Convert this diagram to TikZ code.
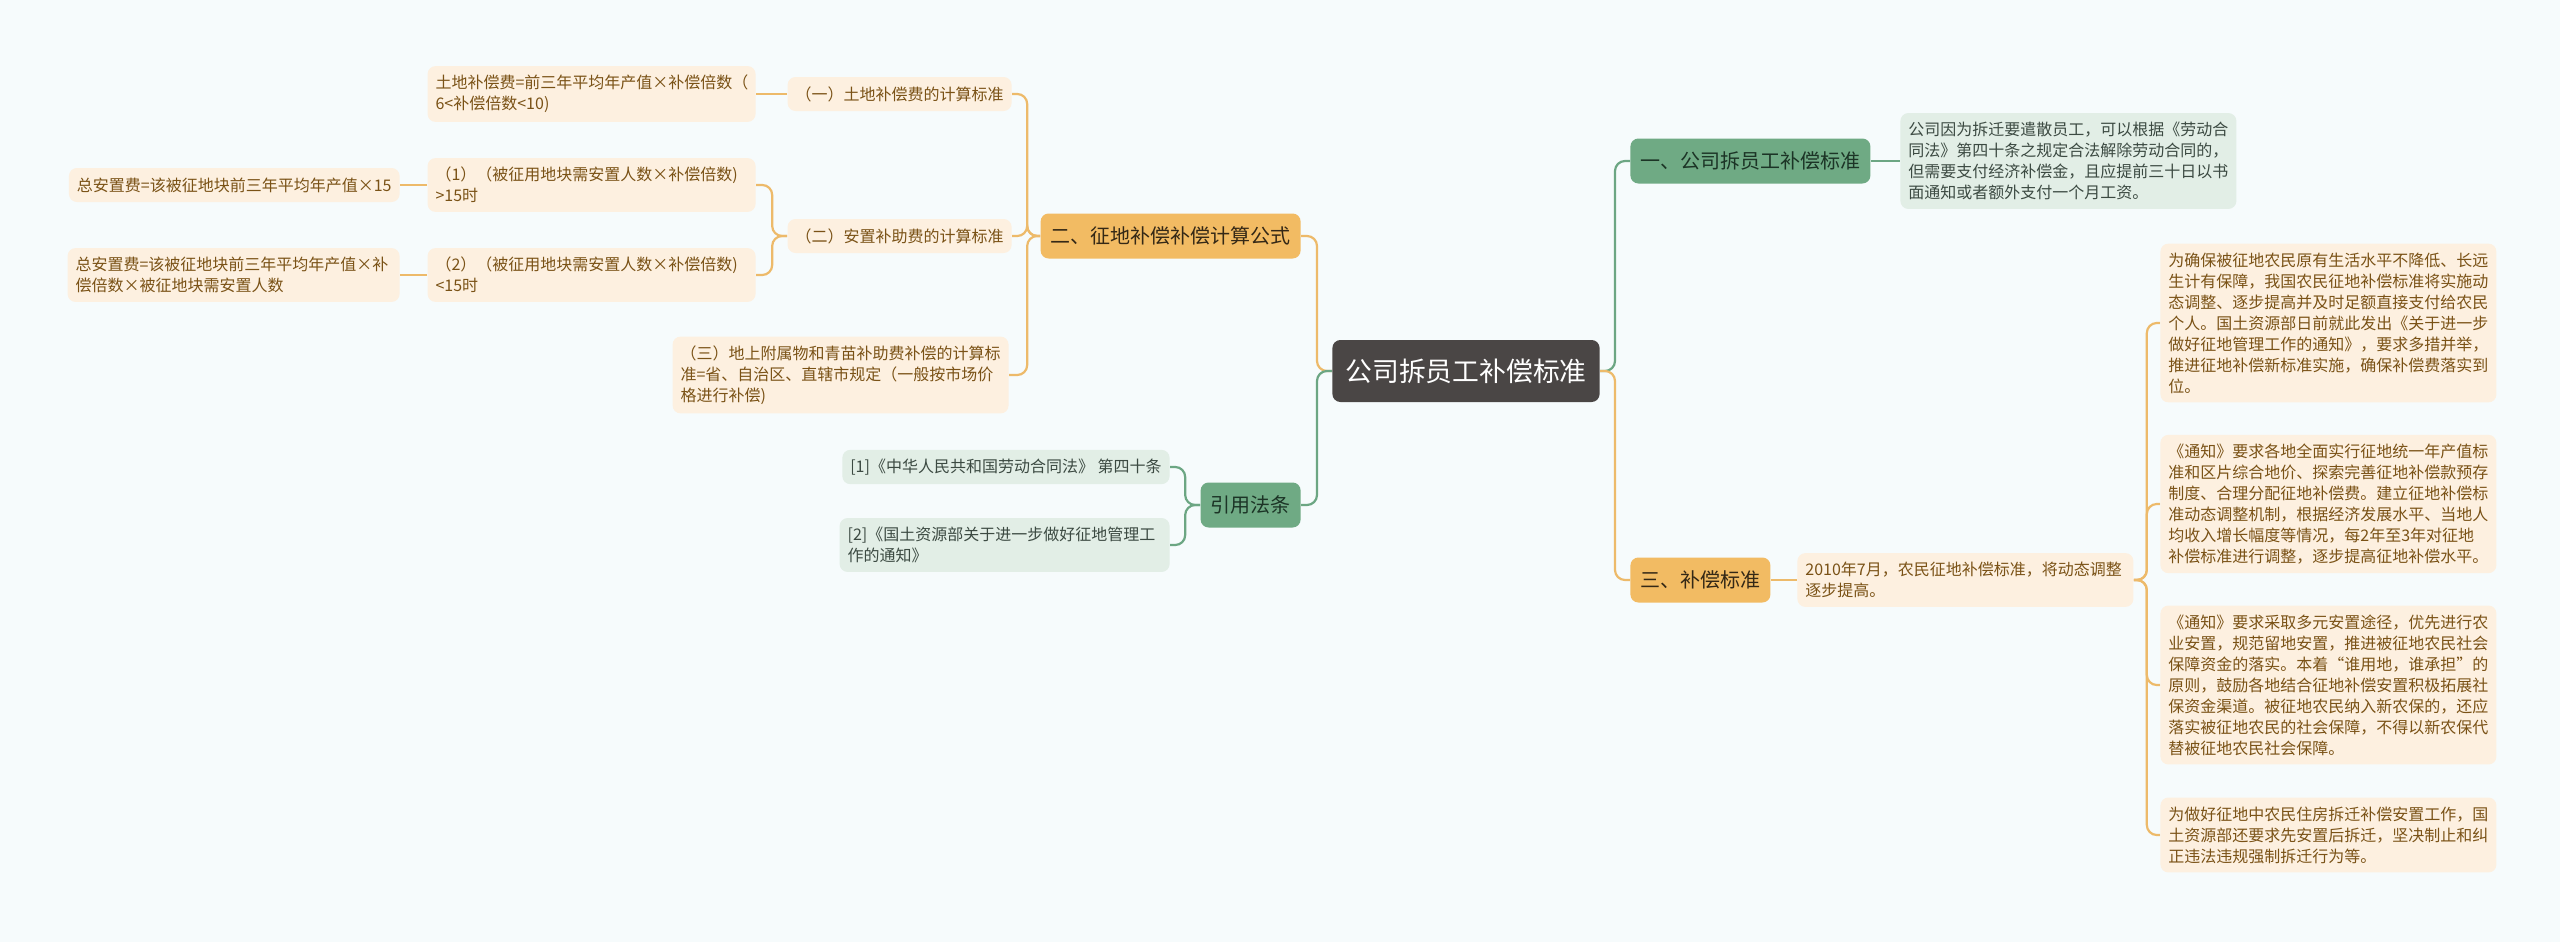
\documentclass[tikz,border=0pt]{standalone}
\usepackage{fontspec}
\setmainfont{Noto Sans CJK SC}
\usetikzlibrary{positioning, backgrounds}
\definecolor{bgc}{RGB}{246,251,252}
\definecolor{rootc}{RGB}{74,70,69}
\definecolor{orgc}{RGB}{242,187,99}
\definecolor{orglc}{RGB}{237,186,106}
\definecolor{orgleaf}{RGB}{253,240,224}
\definecolor{orgtxt}{RGB}{122,82,22}
\definecolor{orgdark}{RGB}{52,40,22}
\definecolor{grnc}{RGB}{111,170,132}
\definecolor{grnlc}{RGB}{108,166,131}
\definecolor{grnleaf}{RGB}{226,238,230}
\definecolor{grntxt}{RGB}{60,74,66}
\definecolor{grndark}{RGB}{28,52,38}
\tikzset{
  rootbox/.style={rounded corners=4pt, fill=rootc, text=white,
    font=\fontsize{13.4}{16}\selectfont, inner xsep=6.5pt, minimum height=31pt},
  obranch/.style={rounded corners=4pt, fill=orgc, text=orgdark,
    font=\fontsize{10}{12}\selectfont, inner xsep=5pt, minimum height=22.5pt},
  gbranch/.style={obranch, fill=grnc, text=grndark},
  oleaf/.style={rounded corners=4pt, fill=orgleaf, text=orgtxt,
    font=\fontsize{8}{10.5}\selectfont, inner xsep=4pt, inner ysep=4.5pt,
    align=left, minimum height=17pt},
  gleaf/.style={oleaf, fill=grnleaf, text=grntxt},
  oline/.style={draw=orglc, line width=1.1pt, rounded corners=5pt},
  gline/.style={oline, draw=grnlc}
}
\begin{document}
\begin{tikzpicture}[x=0.5pt, y=-0.5pt]
  \useasboundingbox (0,0) rectangle (2560,942);
  \node[rootbox] (root) at (1466,371) {公司拆员工补偿标准};

  \node[obranch, anchor=east] (calc) at (1301,236) {二、征地补偿补偿计算公式};
  \node[oleaf, anchor=east] (landcost) at (1012,94) {（一）土地补偿费的计算标准};
  \node[oleaf, anchor=east] (resettle) at (1012,236) {（二）安置补助费的计算标准};
  \node[oleaf, anchor=east, text width=160pt] (crops) at (1009,375)
    {（三）地上附属物和青苗补助费补偿的计算标\\准=省、自治区、直辖市规定（一般按市场价\\格进行补偿)};
  \node[oleaf, anchor=east, text width=156pt] (landeq) at (756,94)
    {土地补偿费=前三年平均年产值×补偿倍数（\\6<补偿倍数<10)};
  \node[oleaf, anchor=east, text width=156pt] (over) at (756,185)
    {（1）（被征用地块需安置人数×补偿倍数)\\>15时};
  \node[oleaf, anchor=east, text width=156pt] (under) at (756,275)
    {（2）（被征用地块需安置人数×补偿倍数)\\<15时};
  \node[oleaf, anchor=east] (totover) at (400,185) {总安置费=该被征地块前三年平均年产值×15};
  \node[oleaf, anchor=east, text width=158pt] (totunder) at (400,275)
    {总安置费=该被征地块前三年平均年产值×补\\偿倍数×被征地块需安置人数};

  \node[gbranch, anchor=east] (laws) at (1301,505) {引用法条};
  \node[gleaf, anchor=east] (law1) at (1170,467) {[1]《中华人民共和国劳动合同法》 第四十条};
  \node[gleaf, anchor=east, text width=157pt] (law2) at (1170,545)
    {[2]《国土资源部关于进一步做好征地管理工\\作的通知》};

  \node[gbranch, anchor=west] (staff) at (1630,161) {一、公司拆员工补偿标准};
  \node[gleaf, anchor=west, text width=160pt] (staffnote) at (1900,161)
    {公司因为拆迁要遣散员工，可以根据《劳动合\\同法》第四十条之规定合法解除劳动合同的，\\但需要支付经济补偿金，且应提前三十日以书\\面通知或者额外支付一个月工资。};

  \node[obranch, anchor=west] (std) at (1630,580) {三、补偿标准};
  \node[oleaf, anchor=west, text width=160pt] (stdnote) at (1797,580)
    {2010年7月，农民征地补偿标准，将动态调整\\逐步提高。};
  \node[oleaf, anchor=west, text width=160pt] (detail1) at (2160,323)
    {为确保被征地农民原有生活水平不降低、长远\\生计有保障，我国农民征地补偿标准将实施动\\态调整、逐步提高并及时足额直接支付给农民\\个人。国土资源部日前就此发出《关于进一步\\做好征地管理工作的通知》，要求多措并举，\\推进征地补偿新标准实施，确保补偿费落实到\\位。};
  \node[oleaf, anchor=west, text width=160pt] (detail2) at (2160,504)
    {《通知》要求各地全面实行征地统一年产值标\\准和区片综合地价、探索完善征地补偿款预存\\制度、合理分配征地补偿费。建立征地补偿标\\准动态调整机制，根据经济发展水平、当地人\\均收入增长幅度等情况，每2年至3年对征地\\补偿标准进行调整，逐步提高征地补偿水平。};
  \node[oleaf, anchor=west, text width=160pt] (detail3) at (2160,685)
    {《通知》要求采取多元安置途径，优先进行农\\业安置，规范留地安置，推进被征地农民社会\\保障资金的落实。本着“谁用地，谁承担”的\\原则，鼓励各地结合征地补偿安置积极拓展社\\保资金渠道。被征地农民纳入新农保的，还应\\落实被征地农民的社会保障，不得以新农保代\\替被征地农民社会保障。};
  \node[oleaf, anchor=west, text width=160pt] (detail4) at (2160,835)
    {为做好征地中农民住房拆迁补偿安置工作，国\\土资源部还要求先安置后拆迁，坚决制止和纠\\正违法违规强制拆迁行为等。};

  \begin{scope}[on background layer]
    \fill[bgc] (0,0) rectangle (2560,942);
    \draw[oline] (root.west) -- ++(-15,0) |- (calc.east);
    \draw[gline] (root.west) -- ++(-15,0) |- (laws.east);
    \draw[gline] (root.east) -- ++(15,0) |- (staff.west);
    \draw[oline] (root.east) -- ++(15,0) |- (std.west);
    \foreach \c in {landcost, resettle, crops}
      \draw[oline] (calc.west) -- ++(-13,0) |- (\c.east);
    \draw[oline] (landcost.west) -- (landeq.east);
    \foreach \c in {over, under}
      \draw[oline] (resettle.west) -- ++(-15,0) |- (\c.east);
    \draw[oline] (over.west) -- (totover.east);
    \draw[oline] (under.west) -- (totunder.east);
    \foreach \c in {law1, law2}
      \draw[gline] (laws.west) -- ++(-15,0) |- (\c.east);
    \draw[gline] (staff.east) -- (staffnote.west);
    \draw[oline] (std.east) -- (stdnote.west);
    \foreach \i in {1,...,4}
      \draw[oline] (stdnote.east) -- ++(13,0) |- (detail\i.west);
  \end{scope}
\end{tikzpicture}
\end{document}
